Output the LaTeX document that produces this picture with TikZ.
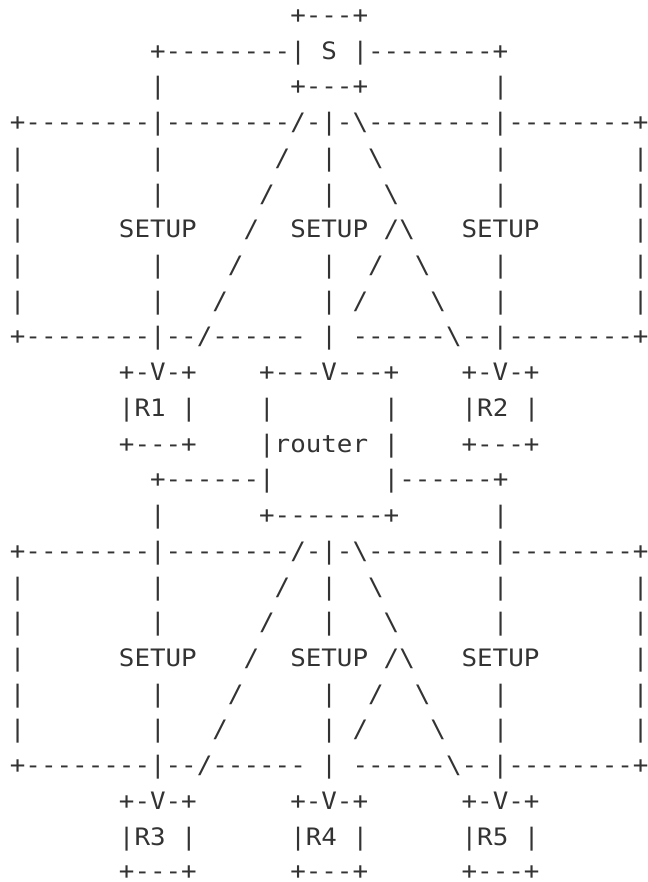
\documentclass[tikz,border=0pt]{standalone}
\usepackage{fontspec}
\newfontfamily\asciifont{DejaVu Sans Mono}[FakeStretch=1.078]
\newlength\cw
\newcommand\SP[1]{\hspace*{#1\cw}}
\newcommand\bs{\textbackslash}
\newcommand\tighten{\hspace*{-5pt}}
\definecolor{ink}{RGB}{51,51,51}
\tikzset{
  asciirow/.style={anchor=base west, inner sep=0pt, outer sep=0pt, text=ink,
    font=\asciifont\fontsize{24pt}{30pt}\selectfont},
}
\begin{document}
\settowidth\cw{\asciifont\fontsize{24pt}{30pt}\selectfont x}
\begin{tikzpicture}[x=1pt,y=1pt]
\fill[white] (0,0) rectangle (647,-882);
\useasboundingbox (0,0) rectangle (647,-882);
\def\X{9.9}
\node[asciirow] (r0)  at (\X,{-23.5-0*35.72})  {\SP{18}+---+};
\node[asciirow] (r1)  at (\X,{-23.5-1*35.72})  {\SP{9}+--------|\SP{1}S\SP{1}|--------+};
\node[asciirow] (r2)  at (\X,{-23.5-2*35.72})  {\SP{9}|\SP{8}+---+\SP{8}|};
\node[asciirow] (r3)  at (\X,{-23.5-3*35.72})  {+--------|--------/-|-\bs--------|--------+\tighten};
\node[asciirow] (r4)  at (\X,{-23.5-4*35.72})  {|\SP{8}|\SP{7}/\SP{2}|\SP{2}\bs\SP{7}|\SP{8}|\tighten};
\node[asciirow] (r5)  at (\X,{-23.5-5*35.72})  {|\SP{8}|\SP{6}/\SP{3}|\SP{3}\bs\SP{6}|\SP{8}|\tighten};
\node[asciirow] (r6)  at (\X,{-23.5-6*35.72})  {|\SP{6}SETUP\SP{3}/\SP{2}SETUP\SP{1}/\bs\SP{3}SETUP\SP{6}|\tighten};
\node[asciirow] (r7)  at (\X,{-23.5-7*35.72})  {|\SP{8}|\SP{4}/\SP{5}|\SP{2}/\SP{2}\bs\SP{4}|\SP{8}|\tighten};
\node[asciirow] (r8)  at (\X,{-23.5-8*35.72})  {|\SP{8}|\SP{3}/\SP{6}|\SP{1}/\SP{4}\bs\SP{3}|\SP{8}|\tighten};
\node[asciirow] (r9)  at (\X,{-23.5-9*35.72})  {+--------|--/------\SP{1}|\SP{1}------\bs--|--------+\tighten};
\node[asciirow] (r10) at (\X,{-23.5-10*35.72}) {\SP{7}+-V-+\SP{4}+---V---+\SP{4}+-V-+};
\node[asciirow] (r11) at (\X,{-23.5-11*35.72}) {\SP{7}|R1\SP{1}|\SP{4}|\SP{7}|\SP{4}|R2\SP{1}|};
\node[asciirow] (r12) at (\X,{-23.5-12*35.72}) {\SP{7}+---+\SP{4}|router\SP{1}|\SP{4}+---+};
\node[asciirow] (r13) at (\X,{-23.5-13*35.72}) {\SP{9}+------|\SP{7}|------+};
\node[asciirow] (r14) at (\X,{-23.5-14*35.72}) {\SP{9}|\SP{6}+-------+\SP{6}|};
\node[asciirow] (r15) at (\X,{-23.5-15*35.72}) {+--------|--------/-|-\bs--------|--------+\tighten};
\node[asciirow] (r16) at (\X,{-23.5-16*35.72}) {|\SP{8}|\SP{7}/\SP{2}|\SP{2}\bs\SP{7}|\SP{8}|\tighten};
\node[asciirow] (r17) at (\X,{-23.5-17*35.72}) {|\SP{8}|\SP{6}/\SP{3}|\SP{3}\bs\SP{6}|\SP{8}|\tighten};
\node[asciirow] (r18) at (\X,{-23.5-18*35.72}) {|\SP{6}SETUP\SP{3}/\SP{2}SETUP\SP{1}/\bs\SP{3}SETUP\SP{6}|\tighten};
\node[asciirow] (r19) at (\X,{-23.5-19*35.72}) {|\SP{8}|\SP{4}/\SP{5}|\SP{2}/\SP{2}\bs\SP{4}|\SP{8}|\tighten};
\node[asciirow] (r20) at (\X,{-23.5-20*35.72}) {|\SP{8}|\SP{3}/\SP{6}|\SP{1}/\SP{4}\bs\SP{3}|\SP{8}|\tighten};
\node[asciirow] (r21) at (\X,{-23.5-21*35.72}) {+--------|--/------\SP{1}|\SP{1}------\bs--|--------+\tighten};
\node[asciirow] (r22) at (\X,{-23.5-22*35.72}) {\SP{7}+-V-+\SP{6}+-V-+\SP{6}+-V-+};
\node[asciirow] (r23) at (\X,{-23.5-23*35.72}) {\SP{7}|R3\SP{1}|\SP{6}|R4\SP{1}|\SP{6}|R5\SP{1}|};
\node[asciirow, text depth=0pt] (r24) at (\X,{-22.5-24*35.72}) {\SP{7}+---+\SP{6}+---+\SP{6}+---+};
\end{tikzpicture}
\end{document}
